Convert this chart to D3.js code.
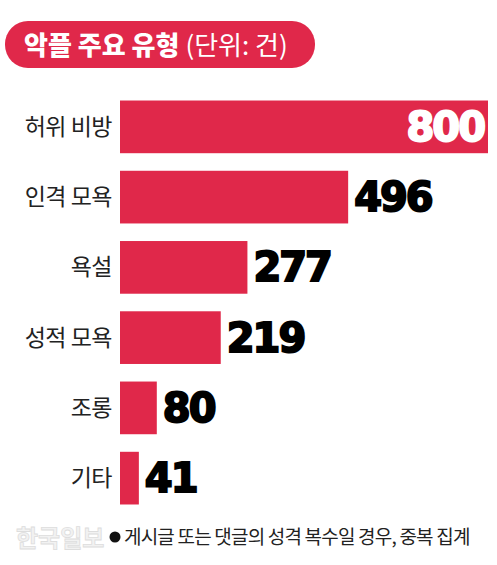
<!DOCTYPE html><html><head><meta charset="utf-8">
<script src="https://cdn.jsdelivr.net/npm/d3@7"></script>
<style>body{margin:0;background:#fff}</style></head><body><svg id="c" width="497" height="565"></svg>
<script>
const categories=["허위 비방","인격 모욕","욕설","성적 모욕","조롱","기타"];
const values=[800,496,277,219,80,41];
const svg=d3.select("#c");
const red="#e0284a";
const x=d3.scaleLinear().domain([0,800]).range([120,488]);
const y=d3.scaleBand().domain(categories).range([97,508]).paddingInner(0.25).paddingOuter(0.05);
svg.append("rect").attr("x",5).attr("y",21).attr("width",310).attr("height",47).attr("rx",23).attr("fill",red);
const t=svg.append("text").attr("x",24).attr("y",55).attr("fill","#fff").attr("font-family","Noto Sans CJK KR").attr("font-size",26);
t.append("tspan").attr("font-weight",900).text("악플 주요 유형 ");
t.append("tspan").attr("font-weight",400).text("(단위: 건)");
svg.selectAll(".bar").data(values).join("rect").attr("x",x(0)).attr("y",(d,i)=>y(categories[i])).attr("width",d=>x(d)-x(0)).attr("height",y.bandwidth()).attr("fill",red);
svg.selectAll(".cat").data(categories).join("text").attr("x",112).attr("y",d=>y(d)+y.bandwidth()/2+8).attr("text-anchor","end").attr("font-family","Noto Sans CJK KR").attr("font-size",23).attr("letter-spacing",-0.5).attr("fill","#222").text(d=>d);
svg.selectAll(".val").data(values).join("text")
 .attr("x",(d,i)=>i===0?x(d)-4:x(d)+6).attr("y",(d,i)=>y(categories[i])+y.bandwidth()/2+14)
 .attr("text-anchor",(d,i)=>i===0?"end":"start").attr("font-family","DejaVu Sans").attr("font-weight","bold").attr("font-size",40).attr("letter-spacing",-2)
 .attr("fill",(d,i)=>i===0?"#fff":"#000").attr("stroke",(d,i)=>i===0?"#fff":"#000").attr("stroke-width",2).text(d=>d);
svg.append("text").attr("x",16).attr("y",547).attr("font-family","Noto Sans CJK KR").attr("font-weight",700).attr("font-size",24).attr("fill","#f2f2f2").attr("stroke","#ddd").attr("stroke-width",0.8).text("한국일보");
svg.append("circle").attr("cx",115).attr("cy",537).attr("r",5.5).attr("fill","#111");
svg.append("text").attr("x",124).attr("y",544).attr("font-family","Noto Sans CJK KR").attr("font-size",19).attr("fill","#222").attr("letter-spacing",-0.8).text("게시글 또는 댓글의 성격 복수일 경우, 중복 집계");
</script></body></html>
